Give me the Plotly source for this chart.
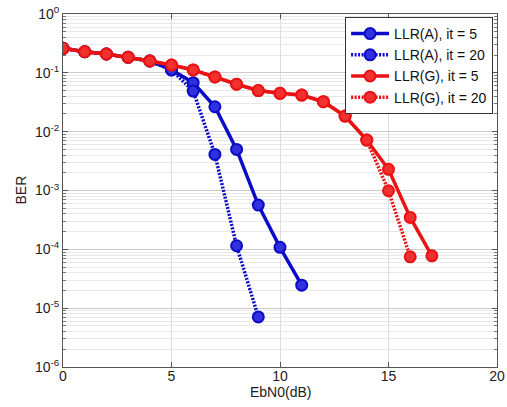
import plotly.graph_objects as go

ebn0_a5 = [0, 1, 2, 3, 4, 5, 6, 7, 8, 9, 10, 11]
ber_a5 = [0.261, 0.228, 0.209, 0.184, 0.159, 0.112, 0.068, 0.0265, 0.0050, 5.65e-4, 1.08e-4, 2.46e-5]

ebn0_a20 = [0, 1, 2, 3, 4, 5, 6, 7, 8, 9]
ber_a20 = [0.261, 0.228, 0.209, 0.184, 0.159, 0.112, 0.049, 4.1e-3, 1.15e-4, 7.1e-6]

ebn0_g5 = list(range(0, 18))
ber_g5 = [0.261, 0.228, 0.209, 0.184, 0.159, 0.136, 0.112, 0.085, 0.064, 0.050,
          0.0448, 0.0419, 0.0323, 0.0184, 0.0072, 0.00229, 3.49e-4, 7.76e-5]

ebn0_g20 = list(range(0, 17))
ber_g20 = [0.261, 0.228, 0.209, 0.184, 0.159, 0.136, 0.112, 0.085, 0.064, 0.050,
           0.0448, 0.0419, 0.0323, 0.0184, 0.0072, 0.00099, 7.45e-5]

series_names = ["LLR(A), it = 5", "LLR(A), it = 20", "LLR(G), it = 5", "LLR(G), it = 20"]

x_ticks = [0, 5, 10, 15, 20]
y_tickvals = [1, 0.1, 0.01, 0.001, 1e-4, 1e-5, 1e-6]
y_ticktext = ["10<sup>0</sup>", "10<sup>-1</sup>", "10<sup>-2</sup>", "10<sup>-3</sup>",
              "10<sup>-4</sup>", "10<sup>-5</sup>", "10<sup>-6</sup>"]

BLUE = "#0c0cc8"
BLUE_FILL = "#3030dd"
RED = "#ea1212"
RED_FILL = "#f23030"

fig = go.Figure()
specs = [
    (ebn0_a5, ber_a5, series_names[0], BLUE, BLUE_FILL, "solid"),
    (ebn0_a20, ber_a20, series_names[1], BLUE, BLUE_FILL, "2px,1.5px"),
    (ebn0_g5, ber_g5, series_names[2], RED, RED_FILL, "solid"),
    (ebn0_g20, ber_g20, series_names[3], RED, RED_FILL, "2px,1.5px"),
]
for xs, ys, name, col, fill, dash in specs:
    fig.add_trace(go.Scatter(
        x=xs, y=ys, name=name, mode="lines+markers",
        line=dict(color=col, width=3.5, dash=dash),
        marker=dict(symbol="circle", size=11, color=fill,
                    line=dict(color=col, width=2)),
    ))

FONT = "Liberation Sans, Arial, sans-serif"
fig.update_layout(
    width=507, height=407,
    margin=dict(l=63, r=10, t=14, b=40, autoexpand=False),
    paper_bgcolor="white", plot_bgcolor="white",
    font=dict(family=FONT, size=14, color="#222"),
    showlegend=True,
    legend=dict(x=0.991, y=0.9915, xanchor="right", yanchor="top",
                bgcolor="white", bordercolor="#333", borderwidth=1,
                font=dict(family=FONT, size=14, color="#111"),
                tracegroupgap=0, itemwidth=38),
    annotations=[
        dict(text="EbN0(dB)", xref="paper", yref="paper", x=0.5, y=-0.072,
             xanchor="center", yanchor="middle", showarrow=False,
             font=dict(family=FONT, size=14, color="#222")),
        dict(text="BER", xref="paper", yref="paper", x=-0.099, y=0.5,
             xanchor="center", yanchor="middle", showarrow=False, textangle=-90,
             font=dict(family=FONT, size=14, color="#222")),
    ],
)
fig.update_xaxes(
    range=[0, 20], tickvals=x_ticks, ticktext=[str(v) for v in x_ticks],
    automargin=False, ticklabeloverflow="allow", ticklabelstandoff=-4,
    showgrid=True, gridcolor="#dddddd", gridwidth=1,
    zeroline=False, showline=True, linecolor="#555", linewidth=1, mirror="allticks",
    ticks="inside", ticklen=5, tickcolor="#555",
)
fig.update_yaxes(
    type="log", range=[-6, 0], tickvals=y_tickvals, ticktext=y_ticktext,
    automargin=False, ticklabeloverflow="allow",
    showgrid=True, gridcolor="#cccccc", gridwidth=1,
    minor=dict(dtick="D1", showgrid=True, gridcolor="#e8e8e8", ticks="inside",
               ticklen=3, tickcolor="#777"),
    zeroline=False, showline=True, linecolor="#555", linewidth=1, mirror="allticks",
    ticks="inside", ticklen=5, tickcolor="#555",
)
fig.write_html("out.html", config={"displayModeBar": False},
               post_script="document.body.style.margin='0';document.body.style.overflow='hidden';")
